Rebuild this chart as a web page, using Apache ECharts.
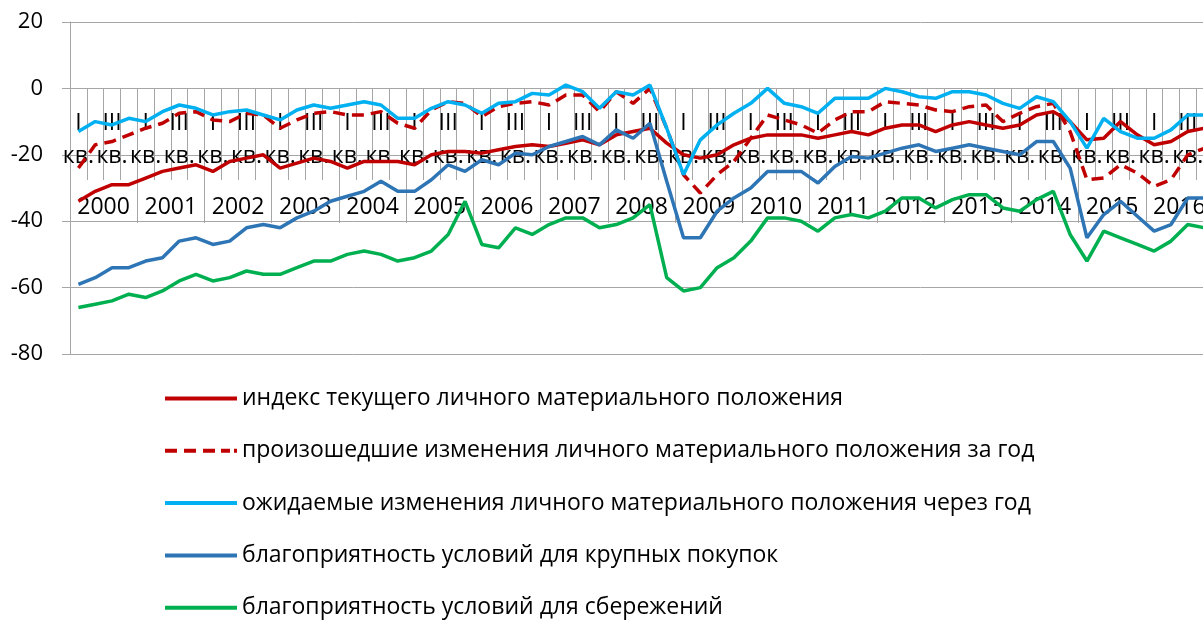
<!DOCTYPE html>
<html>
<head>
<meta charset="utf-8">
<script src="https://cdn.jsdelivr.net/npm/echarts@6/dist/echarts.min.js"></script>
<style>
  html, body { margin: 0; padding: 0; background: #fff; }
  #main { width: 1203px; height: 620px; }
</style>
</head>
<body>
<div id="main"></div>
<script>
    var years = ['2000', '2001', '2002', '2003', '2004', '2005', '2006', '2007', '2008',
        '2009', '2010', '2011', '2012', '2013', '2014', '2015', '2016'];
    var quarterNames = ['I кв.', 'II кв.', 'III кв.', 'IV кв.'];
    var yTicks = [-80, -60, -40, -20, 0, 20];

    // значения по кварталам, 2000 I кв. - 2016 IV кв.
    var currentIndex = [-34, -31, -29, -29, -27, -25, -24, -23, -25, -22, -21, -20,
        -24, -22.5, -21, -22, -24, -22, -22, -22, -23, -20, -19, -19,
        -19.5, -18.5, -17.5, -17, -17.5, -16.5, -15.5, -17, -14, -13, -12, -16.5,
        -20, -21, -20, -17, -15, -14, -14, -14, -15, -14, -13, -14,
        -12, -11, -11, -13, -11, -10, -11, -12, -11, -8, -7, -10,
        -15.5, -15, -10, -14, -17, -16, -13, -12];
    var pastChange = [-24, -17, -16, -14, -12, -10.5, -7.5, -7, -9.5, -10, -7.5, -8,
        -12, -9.5, -7.5, -7, -8, -8, -7, -10.5, -12, -6.5, -4, -4.5,
        -8.5, -5.5, -4.5, -4, -5, -2, -2, -7, -1, -4.5, 0, -12,
        -26, -31.5, -26, -22, -15, -8, -9.5, -11, -13.5, -9.5, -7, -7,
        -4, -4.5, -5, -6.5, -7, -5.5, -5, -10, -7.5, -5.5, -4.5, -13,
        -27.5, -27, -23, -25.5, -29.5, -27.5, -20, -18];
    var expectedChange = [-13, -10, -11, -9, -10, -7, -5, -6, -8, -7, -6.5, -8,
        -9.5, -6.5, -5, -6, -5, -4, -5, -9, -9, -6, -4, -5,
        -7.5, -4.5, -4, -1.5, -2, 1, -1, -6, -1, -2, 1, -12,
        -26, -15.5, -11, -7.5, -4.5, 0, -4.5, -5.5, -7.5, -3, -3, -3,
        0, -1, -2.5, -3, -1, -1, -2, -4.5, -6, -2.5, -4, -10,
        -18, -9, -13, -15, -15, -12.5, -8, -8];
    var bigPurchases = [-59, -57, -54, -54, -52, -51, -46, -45, -47, -46, -42, -41,
        -42, -39, -37, -34, -32.5, -31, -28, -31, -31, -27.5, -23, -25,
        -21.5, -23, -19.5, -20, -17.5, -16, -14.5, -17, -12.5, -15, -10.5, -28,
        -45, -45, -37, -33, -30, -25, -25, -25, -28.5, -23.5, -20.5, -21,
        -19.5, -18, -17, -19, -18, -17, -18, -19, -20, -16, -16, -24,
        -45, -38, -34, -38.5, -43, -41, -33, -33];
    var savings = [-66, -65, -64, -62, -63, -61, -58, -56, -58, -57, -55, -56,
        -56, -54, -52, -52, -50, -49, -50, -52, -51, -49, -44, -34,
        -47, -48, -42, -44, -41, -39, -39, -42, -41, -39, -35, -57,
        -61, -60, -54, -51, -46, -39, -39, -40, -43, -39, -38, -39,
        -37, -33, -33, -36, -33.5, -32, -32, -36, -37, -33.5, -31, -44,
        -52, -43, -45, -47, -49, -46, -41, -42];

    var quarters = [];
    for (var y = 0; y < years.length; y++) {
        for (var q = 0; q < quarterNames.length; q++) {
            quarters.push(years[y] + ' ' + quarterNames[q]);
        }
    }

    var font = '"Open Sans", "Noto Sans", sans-serif';
    var gridColor = '#a6a6a6';
    // ось категорий проходит через 0: от низа сетки (354px) до нуля (88px)
    var zeroShift = -266;

    var solidIcon = 'path://M0,0h72v4h-72z';
    var dashIcon = 'path://M0,0h12v4h-12zM19,0h12v4h-12zM38,0h12v4h-12zM56,0h9v4h-9zM69,0h3v4h-3z';

    var chart = echarts.init(document.getElementById('main'));

    function line(name, values, color, type) {
        return {
            name: name,
            type: 'line',
            data: values,
            symbol: 'none',
            xAxisIndex: 0,
            lineStyle: { color: color, width: 3.5, type: type || 'solid' },
            itemStyle: { color: color },
            emphasis: { disabled: true }
        };
    }

    var series = [
        line('индекс текущего личного материального положения', currentIndex, '#c00000'),
        line('произошедшие изменения личного материального положения за год', pastChange, '#c00000', [12, 7]),
        line('ожидаемые изменения личного материального положения через год', expectedChange, '#00b0f0'),
        line('благоприятность условий для крупных покупок', bigPurchases, '#2e75b6'),
        line('благоприятность условий для сбережений', savings, '#00b050')
    ];

    var option = {
        animation: false,
        backgroundColor: '#fff',
        textStyle: { fontFamily: font, color: '#000' },
        grid: {
            left: 70, right: -10, top: 22, bottom: 266,
            containLabel: false, outerBoundsMode: 'none'
        },
        xAxis: [{
            type: 'category',
            position: 'bottom',
            offset: zeroShift,
            data: quarters,
            boundaryGap: true,
            axisLine: { onZero: false, lineStyle: { color: gridColor, width: 1 } },
            axisTick: { show: true, interval: 0, length: 92, inside: false, lineStyle: { color: gridColor } },
            axisLabel: {
                interval: 1,
                margin: 19,
                fontSize: 23,
                lineHeight: 33,
                color: '#000',
                fontFamily: font,
                formatter: function (v) {
                    return v.slice(5).replace(' ', '\n');
                }
            },
            splitLine: { show: false }
        }, {
            type: 'category',
            position: 'bottom',
            offset: zeroShift,
            data: years,
            boundaryGap: true,
            axisLine: { show: false, onZero: false },
            axisTick: { show: true, interval: 0, length: 135, lineStyle: { color: gridColor } },
            axisLabel: {
                interval: 0,
                margin: 104,
                fontSize: 23,
                lineHeight: 30,
                color: '#000',
                fontFamily: font
            },
            splitLine: { show: false }
        }],
        yAxis: {
            type: 'value',
            min: yTicks[0],
            max: yTicks[yTicks.length - 1],
            interval: 20,
            axisLine: { show: true, lineStyle: { color: gridColor, width: 1 } },
            axisTick: { show: true, length: 8, lineStyle: { color: gridColor } },
            axisLabel: { margin: 27, fontSize: 22, color: '#000', fontFamily: font },
            splitLine: { show: true, lineStyle: { color: gridColor, width: 1 } }
        },
        legend: {
            orient: 'vertical',
            left: 165,
            top: 387,
            height: 300,
            padding: 0,
            itemWidth: 72,
            itemHeight: 4,
            itemGap: 29.3,
            selectedMode: false,
            textStyle: { fontSize: 23, lineHeight: 22, color: '#000', fontFamily: font },
            data: series.map(function (s, i) {
                return { name: s.name, icon: i === 1 ? dashIcon : solidIcon };
            })
        },
        series: series
    };

    chart.setOption(option);
</script>
</body>
</html>
